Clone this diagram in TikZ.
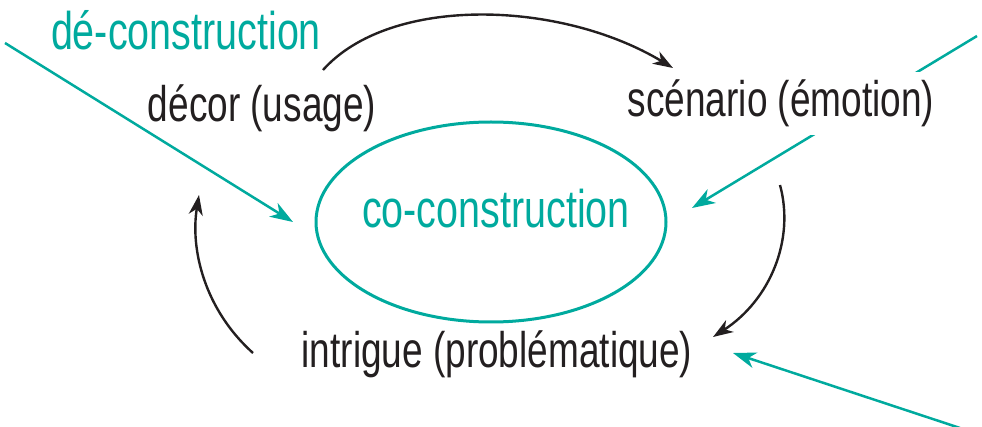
\documentclass[tikz,border=0pt]{standalone}
\usepackage{fontspec}
\setmainfont{Liberation Sans}
\newfontfamily\blkfont{Liberation Sans}[FakeStretch=0.74]
\newfontfamily\tealfont{Liberation Sans}[FakeStretch=0.745]
\usetikzlibrary{arrows.meta,shapes.geometric}
\definecolor{teal1}{RGB}{0,170,158}
\definecolor{ink}{RGB}{35,31,32}
\tikzset{
  lbl/.style={anchor=base,inner sep=0pt,text=ink,font=\blkfont\fontsize{50}{54}\selectfont},
  tlbl/.style={anchor=base,inner sep=0pt,text=teal1,font=\tealfont\fontsize{53}{56}\selectfont},
  blk/.style={draw=ink,line width=2.4pt,-{Stealth[length=20pt,width=14pt,inset=6pt]}},
  tl/.style={draw=teal1,line width=2.5pt,-{Stealth[length=23pt,width=16pt,inset=7pt]}},
}
\begin{document}
\begin{tikzpicture}[x=1pt,y=-1pt]
\useasboundingbox (0,0) rectangle (982,427);
% ellipse
\node[ellipse,draw=teal1,line width=3pt,minimum width=350pt,minimum height=200pt,inner sep=0pt] (ell) at (491,222) {};
% free ends
\coordinate (tlA) at (5,43);
\coordinate (tlB) at (293,222);
\coordinate (trA) at (977,36);
\coordinate (trB) at (692,208);
\coordinate (brA) at (960,428);
\coordinate (brB) at (733,353);
\draw[tl] (tlA) -- (tlB);
\draw[tl] (trA) -- (trB);
\draw[tl] (brA) -- (brB);
% labels
\node[tlbl] (dec) at (186,50) {dé-construction};
\node[lbl] (decor) at (262,122) {décor (usage)};
\node[lbl,fill=white,inner xsep=4pt,inner ysep=8pt] (scen) at (781,117) {scénario (émotion)};
\node[tlbl] (cc) at (496,228) {co-construction};
\node[lbl] (intr) at (497,367) {intrigue (problématique)};
% black arrows
\coordinate (a1) at (323,70);
\coordinate (a2) at (673,68);
\coordinate (b1) at (780,185);
\coordinate (b2) at (713,337);
\coordinate (c1) at (253,353);
\coordinate (c2) at (199,195);
\draw[blk] (a1) .. controls (390,-5) and (560,0) .. (a2);
\draw[blk] (b1) .. controls (795,240) and (770,300) .. (b2);
\draw[blk] (c1) .. controls (205,310) and (190,250) .. (c2);
\end{tikzpicture}
\end{document}
